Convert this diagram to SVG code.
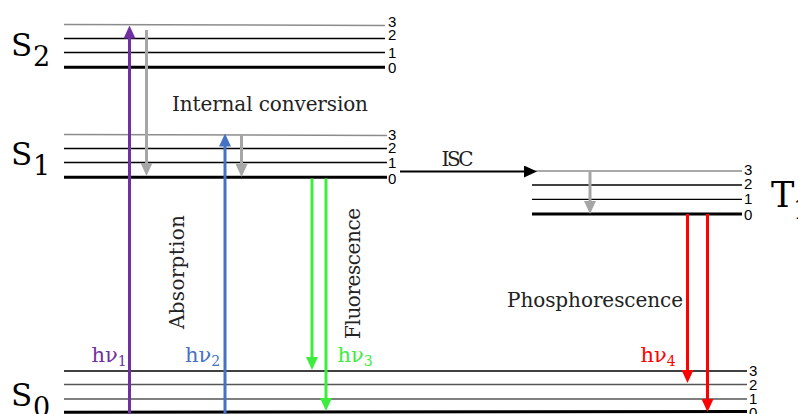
<svg xmlns="http://www.w3.org/2000/svg" width="798" height="414" viewBox="0 0 798 414">
<style>
.lv{stroke:#000;stroke-width:1.3;fill:none}
.lv3{stroke:#8c8c8c;stroke-width:1.5;fill:none}
.lvg{stroke:#555;stroke-width:1.3;fill:none}
.lv0{stroke:#000;stroke-width:3;fill:none}
.num{font-family:"Liberation Sans",Arial,sans-serif;font-size:15px;fill:#000}
.st{font-family:"DejaVu Serif","Liberation Serif",serif;fill:#000}
.big{font-size:31px}
.sub{font-size:27px}
.lbl{font-family:"DejaVu Serif","Liberation Serif",serif;font-size:20px;fill:#222}
.hv{font-family:"DejaVu Serif","Liberation Serif",serif;font-size:21px}
.hvs{font-size:14px}
.ar{fill:none;stroke-width:3}
</style>
<defs>
<marker id="ah-purple" viewBox="0 0 13 12" refX="3" refY="6" markerWidth="13" markerHeight="12" markerUnits="userSpaceOnUse" orient="auto"><path d="M0,0 L13,6 L0,12 z" fill="#7030a0"/></marker>
<marker id="ah-blue" viewBox="0 0 13 12" refX="3" refY="6" markerWidth="13" markerHeight="12" markerUnits="userSpaceOnUse" orient="auto"><path d="M0,0 L13,6 L0,12 z" fill="#4472c4"/></marker>
<marker id="ah-gray" viewBox="0 0 13 12" refX="3" refY="6" markerWidth="13" markerHeight="12" markerUnits="userSpaceOnUse" orient="auto"><path d="M0,0 L13,6 L0,12 z" fill="#a6a6a6"/></marker>
<marker id="ah-green" viewBox="0 0 13 12" refX="3" refY="6" markerWidth="13" markerHeight="12" markerUnits="userSpaceOnUse" orient="auto"><path d="M0,0 L13,6 L0,12 z" fill="#3ded3d"/></marker>
<marker id="ah-red" viewBox="0 0 13 12" refX="3" refY="6" markerWidth="13" markerHeight="12" markerUnits="userSpaceOnUse" orient="auto"><path d="M0,0 L13,6 L0,12 z" fill="#ff0000"/></marker>
<marker id="ah-black" viewBox="0 0 13 12" refX="3" refY="6" markerWidth="13" markerHeight="12" markerUnits="userSpaceOnUse" orient="auto"><path d="M0,0 L13,6 L0,12 z" fill="#000"/></marker>
</defs>
<rect width="798" height="414" fill="#fff"/>

<g id="S2">
<line class="lv3" x1="64" y1="24.5" x2="385" y2="25.5"/>
<line class="lv" x1="64" y1="38.5" x2="385" y2="38.5"/>
<line class="lv" x1="64" y1="52.5" x2="385" y2="52.5"/>
<line class="lv0" x1="64" y1="67.3" x2="385" y2="67.3"/>
<text class="num" x="388" y="27">3</text>
<text class="num" x="388" y="39.5">2</text>
<text class="num" x="388" y="57.5">1</text>
<text class="num" x="388" y="73">0</text>
<text class="st big" x="11" y="56">S</text>
<text class="st sub" x="33" y="66">2</text>
</g>

<g id="S1">
<line class="lv3" x1="64" y1="134.5" x2="387" y2="135.5"/>
<line class="lv" x1="64" y1="148.5" x2="387" y2="148.5"/>
<line class="lv" x1="64" y1="162.5" x2="387" y2="162.5"/>
<line class="lv0" x1="64" y1="177.3" x2="387" y2="177.3"/>
<text class="num" x="388" y="139.5">3</text>
<text class="num" x="388" y="152.5">2</text>
<text class="num" x="388" y="167.5">1</text>
<text class="num" x="388" y="183.5">0</text>
<text class="st big" x="11" y="165">S</text>
<text class="st sub" x="33" y="175">1</text>
</g>

<g id="T1">
<line class="lv3" x1="532" y1="171" x2="742" y2="171"/>
<line class="lv" x1="532" y1="185" x2="742" y2="185"/>
<line class="lv" x1="532" y1="199.3" x2="742" y2="199.3"/>
<line class="lv0" x1="532" y1="214" x2="742" y2="214"/>
<text class="num" x="744" y="175">3</text>
<text class="num" x="744" y="189">2</text>
<text class="num" x="744" y="204">1</text>
<text class="num" x="744" y="219.5">0</text>
<text class="st" font-size="35" x="771" y="207">T</text>
<text class="st sub" x="793" y="219">1</text>
</g>

<g id="S0">
<line class="lv" x1="64" y1="371" x2="747" y2="371"/>
<line class="lvg" x1="64" y1="384.5" x2="747" y2="384.5"/>
<line class="lvg" x1="64" y1="399" x2="747" y2="399"/>
<line class="lv0" x1="64" y1="412.3" x2="747" y2="411.5"/>
<text class="num" x="749" y="375.5">3</text>
<text class="num" x="749" y="389.5">2</text>
<text class="num" x="749" y="404">1</text>
<text class="num" x="749" y="417.5">0</text>
<text class="st big" x="11" y="406">S</text>
<text class="st sub" x="33" y="417">0</text>
</g>

<g id="connectors">
<line class="ar" stroke="#7030a0" x1="129.5" y1="414" x2="129.5" y2="35.5" marker-end="url(#ah-purple)"/>
<line class="ar" stroke="#a6a6a6" x1="146.5" y1="30" x2="146.5" y2="166" marker-end="url(#ah-gray)"/>
<line class="ar" stroke="#4472c4" x1="225" y1="414" x2="225" y2="143.5" marker-end="url(#ah-blue)"/>
<line class="ar" stroke="#a6a6a6" x1="241.5" y1="135" x2="241.5" y2="167" marker-end="url(#ah-gray)"/>
<line class="ar" stroke="#3ded3d" x1="312" y1="178.5" x2="312" y2="360" marker-end="url(#ah-green)"/>
<line class="ar" stroke="#3ded3d" x1="326" y1="178.5" x2="326" y2="401" marker-end="url(#ah-green)"/>
<line fill="none" stroke="#000" stroke-width="2" x1="400" y1="171.5" x2="527" y2="171.5" marker-end="url(#ah-black)"/>
<line class="ar" stroke="#a6a6a6" x1="590" y1="171" x2="590" y2="204" marker-end="url(#ah-gray)"/>
<line class="ar" stroke="#ff0000" x1="687.5" y1="214" x2="687.5" y2="373" marker-end="url(#ah-red)"/>
<line class="ar" stroke="#ff0000" x1="707.5" y1="214" x2="707.5" y2="402" marker-end="url(#ah-red)"/>
</g>

<g id="labels">
<text class="lbl" x="172" y="110.7" textLength="196">Internal conversion</text>
<text class="lbl" x="441.5" y="165.7" textLength="32">ISC</text>
<text class="lbl" x="507" y="307" textLength="176">Phosphorescence</text>
<text class="lbl" transform="translate(183.5,329) rotate(-90)" textLength="114">Absorption</text>
<text class="lbl" transform="translate(360,339) rotate(-90)" textLength="131">Fluorescence</text>
<text class="hv" x="91.5" y="361.7" fill="#7030a0">hν<tspan class="hvs" dy="4">1</tspan></text>
<text class="hv" x="185" y="361.7" fill="#4472c4">hν<tspan class="hvs" dy="4">2</tspan></text>
<text class="hv" x="337.5" y="361.7" fill="#3ded3d">hν<tspan class="hvs" dy="4">3</tspan></text>
<text class="hv" x="640.5" y="361.7" fill="#ff0000">hν<tspan class="hvs" dy="4">4</tspan></text>
</g>
</svg>
